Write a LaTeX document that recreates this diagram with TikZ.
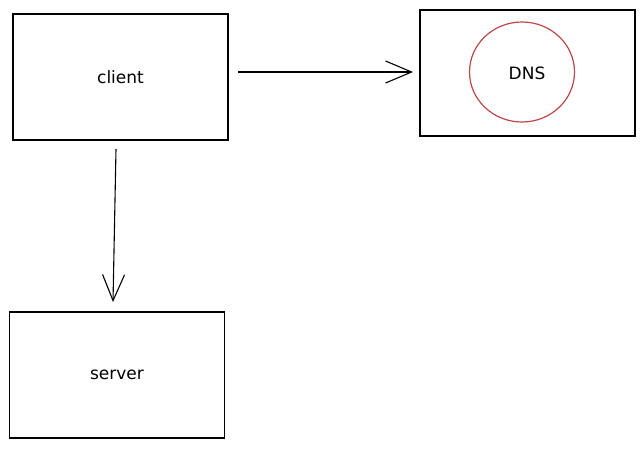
\documentclass[tikz,border=0pt]{standalone}
\usepackage{fontspec}
\setmainfont{DejaVu Sans}
\usetikzlibrary{arrows.meta,shapes.geometric}
\definecolor{dnsred}{RGB}{190,70,72}
\tikzset{
  lbl/.style={font=\fontsize{17}{20}\selectfont},
  box/.style={draw=black, line width=1.3pt, minimum width=215pt, minimum height=126pt, inner sep=0pt, lbl},
  conn/.style={draw=black, line width=1.1pt, -{Straight Barb[length=26pt, width=22pt, line width=1.1pt]}},
  ring/.style={draw=dnsred, line width=1.2pt, ellipse},
}
\begin{document}
\begin{tikzpicture}[x=1pt, y=-1pt]
\useasboundingbox (0,0) rectangle (644,448);
\node[box] (client) at (120.5,77) {client};
\node[box] (dns) at (527.5,73) {};
\node[ring, minimum width=105pt, minimum height=100pt, inner sep=0pt] (circ) at (522,72) {};
\node[lbl] (dnslabel) at (527,73) {DNS};
\node[box] (server) at (117,375) {server};
\coordinate (a1) at (238,72);
\coordinate (a2) at (413,72);
\coordinate (b1) at (116,149);
\coordinate (b2) at (113,302);
\draw[conn] (a1) -- (a2);
\draw[conn] (b1) -- (b2);
\end{tikzpicture}
\end{document}
